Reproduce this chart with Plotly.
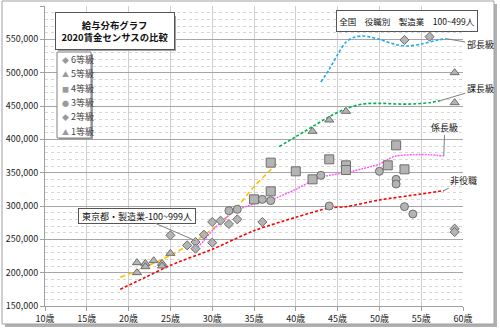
import plotly.graph_objects as go

FONT = "Noto Sans CJK JP"

# ---- scatter data (age, monthly wage) ----
g1_age = [21, 21, 22, 22, 23, 24, 24, 25]
g1_val = [215000, 200000, 214000, 209000, 218000, 214000, 210000, 229000]

g2_age = [25, 27, 28, 28, 29, 30, 30, 31, 32, 33, 36, 59, 59]
g2_val = [256000, 241000, 246000, 236000, 257000, 276000, 245000, 278000, 273000, 280000, 276000, 266000, 261000]

g3_age = [32, 33, 36, 37, 43, 44, 50, 52, 52, 53, 54]
g3_val = [293000, 295000, 310000, 308000, 346000, 300000, 352000, 340000, 333000, 299000, 288000]

g4_age = [35, 37, 37, 40, 42, 44, 46, 46, 51, 52, 53]
g4_val = [310000, 322000, 365000, 352000, 340000, 370000, 361000, 354000, 361000, 391000, 355000]

g5_age = [42, 44, 46, 59, 59]
g5_val = [412000, 429000, 442000, 455000, 500000]

g6_age = [53, 56]
g6_val = [549000, 554000]

# ---- trend lines ----
tokyo_age = [19, 21, 23, 25, 27, 29, 31, 33, 35, 37.7]
tokyo_val = [193000, 203000, 214000, 226000, 240000, 256000, 275000, 299000, 329000, 363000]

hi_age = [19, 22, 25, 30, 35, 40, 44, 46, 50, 55, 57.7]
hi_val = [175000, 193000, 211000, 235000, 263000, 283000, 297000, 299000, 309000, 318000, 323000]

kakari_age = [28, 29, 30, 31, 32, 33, 35, 37, 40, 42, 44, 46, 48, 50, 51, 52, 54, 56, 57.7]
kakari_val = [235000, 248000, 263000, 275000, 286000, 294000, 303000, 309000, 325000, 338000, 346000,
              350000, 356000, 363000, 370000, 375000, 377000, 377000, 375000]

kacho_age = [38, 40, 42, 44, 46, 48, 50, 52, 54, 56, 57.3]
kacho_val = [389000, 404000, 419000, 434000, 446000, 453000, 454000, 453000, 453000, 455000, 458000]

bucho_age = [43, 44, 45, 46, 47, 48, 50, 52, 53.5, 55, 57, 58]
bucho_val = [486000, 505000, 527000, 546000, 553000, 555000, 550000, 542000, 540000, 543000, 549000, 551000]

x_ticks = [10, 15, 20, 25, 30, 35, 40, 45, 50, 55, 60]
x_labels = [f"{v}歳" for v in x_ticks]

fig = go.Figure()

mk_fill = "#b4b4b4"
mk_line = "#6e6e6e"

series = [
    ("6等級", g6_age, g6_val, "diamond", 7, "◆"),
    ("5等級", g5_age, g5_val, "triangle-up", 8, "▲"),
    ("4等級", g4_age, g4_val, "square", 9, "■"),
    ("3等級", g3_age, g3_val, "circle", 8, "●"),
    ("2等級", g2_age, g2_val, "diamond", 7, "◆"),
    ("1等級", g1_age, g1_val, "triangle-up", 8, "▲"),
]

lines = [
    (tokyo_age, tokyo_val, "#ffc000", "5px,3px", 1.6),
    (hi_age, hi_val, "#ff0000", "3px,2px", 1.6),
    (kakari_age, kakari_val, "#ff55ff", "2px,1px", 1.4),
    (kacho_age, kacho_val, "#00b050", "3px,2px", 1.6),
    (bucho_age, bucho_val, "#1eaaf0", "3px,2px", 1.6),
]
for ax_, ay_, col, dash, w in lines:
    fig.add_trace(go.Scatter(x=ax_, y=ay_, mode="lines",
                             line=dict(color=col, dash=dash, width=w, shape="spline", smoothing=0.8),
                             showlegend=False, hoverinfo="skip"))

for name, xs, ys, sym, sz, glyph in series:
    fig.add_trace(go.Scatter(x=xs, y=ys, mode="markers", name=name, showlegend=False,
                             marker=dict(symbol=sym, size=sz, color=mk_fill, line=dict(color=mk_line, width=1))))

W, H = 500, 330
L, R, T, B = 45, 37, 6, 24
pw, ph = W - L - R, H - T - B


def px(x):
    return (x - L) / pw


def py(y):
    return (H - B - y) / ph


shapes = [
    # outer frame shadow and frame
    dict(type="rect", xref="paper", yref="paper", x0=px(5), x1=px(497), y0=py(327), y1=py(4),
         fillcolor="#b0b0b0", line=dict(width=0), layer="below"),
    dict(type="rect", xref="paper", yref="paper", x0=px(2), x1=px(494), y0=py(324), y1=py(1),
         fillcolor="white", line=dict(color="#a0a0a0", width=1), layer="below"),
    # title box shadow
    dict(type="rect", xref="paper", yref="paper", x0=px(58), x1=px(176), y0=py(51), y1=py(16),
         fillcolor="#a0a0a0", line=dict(width=0), layer="above"),
    # legend shadow
    dict(type="rect", xref="paper", yref="paper", x0=px(59), x1=px(93), y0=py(140), y1=py(54),
         fillcolor="#a0a0a0", line=dict(width=0), layer="above"),
    dict(type="rect", xref="paper", yref="paper", x0=px(57), x1=px(91), y0=py(138), y1=py(52),
         fillcolor="white", line=dict(color="#808080", width=1), layer="above"),
]

annotations = [
    dict(xref="paper", yref="paper", x=px(115), y=py(31.5), xanchor="center", yanchor="middle", showarrow=False,
         text="<b>給与分布グラフ</b><br><b>2020賃金センサスの比較</b>",
         font=dict(family=FONT, size=9.4, color="#111"), bgcolor="white", bordercolor="#555", borderwidth=1,
         width=116, height=34, align="center"),
    dict(xref="paper", yref="paper", x=px(407), y=py(21.5), xanchor="center", yanchor="middle", showarrow=False,
         text="全国\u2003役職別\u2003製造業\u2003100~499人",
         font=dict(family=FONT, size=8.5, color="#111"), bgcolor="white", bordercolor="#555", borderwidth=1,
         width=138, height=18),
    dict(x=28, y=248000, ax=-58, ay=-25, showarrow=True, arrowhead=0, arrowwidth=1, arrowcolor="#808080",
         text="東京都・製造業-100~999人", font=dict(family=FONT, size=9, color="#111"),
         bgcolor="white", bordercolor="#555", borderwidth=1, width=114, height=12),
    dict(x=58, y=551000, ax=34, ay=6, showarrow=True, arrowhead=0, arrowwidth=1, arrowcolor="#808080",
         text="部長級", font=dict(family=FONT, size=9, color="#111")),
    dict(x=57.3, y=458000, ax=40, ay=-12, showarrow=True, arrowhead=0, arrowwidth=1, arrowcolor="#808080",
         text="課長級", font=dict(family=FONT, size=9, color="#111")),
    dict(x=57.7, y=375000, ax=1, ay=-29, showarrow=True, arrowhead=0, arrowwidth=1, arrowcolor="#808080",
         text="係長級", font=dict(family=FONT, size=9, color="#111")),
    dict(x=57.7, y=323000, ax=20, ay=-10, showarrow=True, arrowhead=0, arrowwidth=1, arrowcolor="#808080",
         text="非役職", font=dict(family=FONT, size=9, color="#111")),
]

# manual compact legend
for i, (name, xs, ys, sym, sz, glyph) in enumerate(series):
    yc = 59.5 + 14.3 * i
    annotations.append(dict(xref="paper", yref="paper", x=px(60), y=py(yc), xanchor="left", yanchor="middle",
                            showarrow=False,
                            text=f"<span style='color:#9a9a9a;font-size:7px'>{glyph}</span> {name}",
                            font=dict(family=FONT, size=9, color="#444")))

fig.update_layout(
    width=W, height=H,
    margin=dict(l=L, r=R, t=T, b=B, pad=0),
    paper_bgcolor="white", plot_bgcolor="rgba(0,0,0,0)",
    font=dict(family=FONT, size=9, color="#222"),
    showlegend=False,
    shapes=shapes,
    annotations=annotations,
    xaxis=dict(range=[10, 60], tickvals=x_ticks, ticktext=x_labels, showgrid=True, gridcolor="#cfcfcf",
               gridwidth=1, zeroline=False, showline=True, linecolor="#a0a0a0", ticks="outside",
               ticklen=4, tickcolor="#a0a0a0", tickfont=dict(family=FONT, size=9, color="#222")),
    yaxis=dict(range=[150000, 600000], dtick=50000, tickformat=",", showgrid=True, gridcolor="#a6a6a6",
               gridwidth=1, zeroline=False, showline=True, linecolor="#a0a0a0", ticks="outside",
               ticklen=4, tickcolor="#a0a0a0", tickfont=dict(family=FONT, size=9, color="#222"),
               minor=dict(dtick=10000, showgrid=True, gridcolor="#d6d6d6", griddash="dot", gridwidth=1)),
)

fig.write_html("out.html")
